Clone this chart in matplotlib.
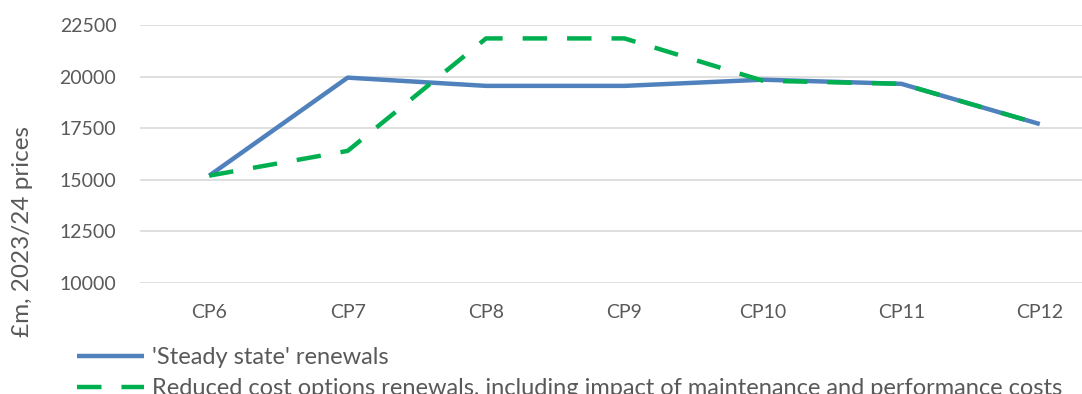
import matplotlib.pyplot as plt

periods = ["CP6", "CP7", "CP8", "CP9", "CP10", "CP11", "CP12"]
steady_state = [15200, 19950, 19550, 19550, 19850, 19650, 17700]
reduced_cost = [15200, 16400, 21850, 21850, 19800, 19650, 17700]
y_ticks = [10000, 12500, 15000, 17500, 20000, 22500]

plt.rcParams['font.family'] = ['Lato', 'DejaVu Sans']
text_col = '#595959'

fig = plt.figure(figsize=(10.82, 3.94), dpi=100)
W, H = 1082, 394
# axes: left 140px, top 25px (22500), bottom 283px (10000); right runs off the image
ax = fig.add_axes([140 / W, 1 - 283 / H, (1109 - 140) / W, (283 - 25) / H])

x = range(len(periods))
ax.plot(x, steady_state, color='#4F81BD', lw=3.2, solid_capstyle='butt',
        label="'Steady state' renewals", zorder=3)
ax.plot(x, reduced_cost, color='#00B050', lw=3.2, dashes=(5.5, 4.5),
        dash_capstyle='butt', label="Reduced cost options renewals, including impact of maintenance and performance costs",
        zorder=4)

ax.set_xlim(-0.5, 6.5)
ax.set_ylim(10000, 22500)
ax.set_yticks(y_ticks)
ax.set_xticks(list(x))
ax.set_xticklabels(periods)
ax.grid(axis='y', color='#D9D9D9', lw=1.2)
ax.set_axisbelow(True)
for s in ax.spines.values():
    s.set_visible(False)
ax.tick_params(length=0, labelsize=14, colors=text_col)
ax.tick_params(axis='y', pad=17)
ax.tick_params(axis='x', pad=15)
ax.set_ylabel("£m, 2023/24 prices", fontsize=17.5, color=text_col)
ax.yaxis.set_label_coords(-0.11, 0.2)

# second legend row is clipped by the bottom edge, as in the original
fig.legend(loc='upper left', bbox_to_anchor=(68 / W, 1 - 338 / H), frameon=False,
           fontsize=17, labelcolor=text_col, handlelength=2.8, handletextpad=0.34,
           labelspacing=0.4, borderaxespad=0)

fig.savefig('out.png', dpi=100)
